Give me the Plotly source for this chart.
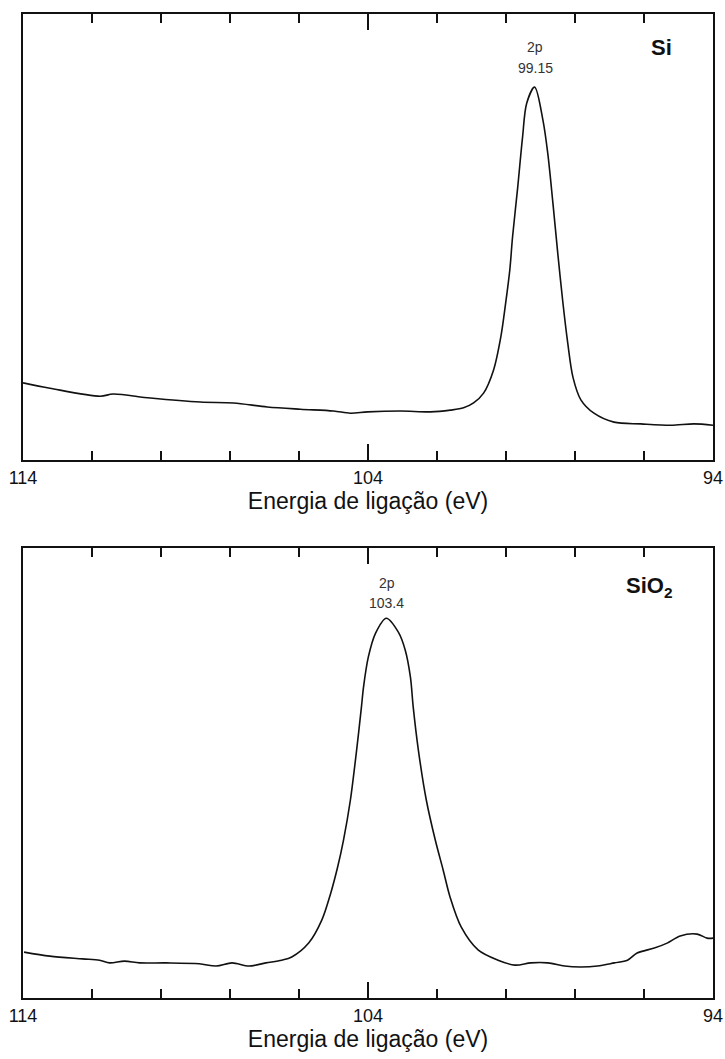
import plotly.graph_objects as go
from plotly.subplots import make_subplots

# Si 2p spectrum (binding energy eV, intensity arb. units)
si_energy = [114.00, 113.22, 111.76, 111.39, 110.31, 108.86, 107.90, 106.92, 105.96, 105.00,
             104.51, 104.01, 103.06, 102.19, 101.61, 101.23, 100.94, 100.65, 100.36, 100.15,
             100.01, 99.89, 99.81, 99.66, 99.52, 99.40, 99.17, 98.93, 98.79, 98.64,
             98.50, 98.35, 98.21, 98.06, 97.83, 97.45, 96.87, 96.09, 95.22, 94.55, 94.00]
si_intensity = [17.3, 16.1, 14.3, 14.8, 13.9, 13.0, 12.8, 11.9, 11.4, 11.0,
                10.5, 10.8, 11.0, 10.8, 11.2, 11.7, 12.8, 15.0, 20.2, 27.6,
                35.2, 42.6, 50.0, 61.2, 72.4, 80.0, 83.6, 76.2, 68.8, 57.6,
                46.4, 35.2, 26.2, 18.6, 13.5, 10.5, 8.5, 8.1, 7.8, 8.1, 7.8]

# SiO2 2p spectrum
sio2_energy = [113.97, 113.22, 112.27, 111.78, 111.49, 111.06, 110.62, 109.84, 108.89, 108.40,
               107.94, 107.45, 106.96, 106.50, 106.21, 105.72, 105.34, 105.08, 104.88, 104.71,
               104.51, 104.33, 104.19, 104.13, 103.99, 103.78, 103.47, 103.12, 102.92, 102.77,
               102.69, 102.54, 102.31, 102.05, 101.82, 101.62, 101.30, 100.81, 100.23, 99.74,
               99.28, 98.79, 98.30, 97.84, 97.35, 96.86, 96.48, 96.20, 95.70, 95.33,
               94.95, 94.46, 94.17, 94.00]
sio2_intensity = [10.2, 9.3, 8.7, 8.4, 7.8, 8.2, 7.8, 7.8, 7.6, 7.1,
                  7.8, 7.1, 7.8, 8.4, 9.1, 12.2, 17.3, 23.3, 29.1, 35.1,
                  44.0, 55.1, 64.7, 69.1, 75.8, 81.1, 84.4, 81.3, 77.3, 71.3,
                  64.7, 55.1, 44.0, 35.1, 28.4, 22.4, 15.8, 10.7, 8.4, 7.3,
                  7.8, 7.8, 7.1, 6.9, 7.1, 7.8, 8.4, 10.0, 11.1, 12.2,
                  13.8, 14.2, 13.3, 13.3]

x_tick_vals = [114, 104, 94]
x_tick_text = ["114", "104", "94"]
x_title = "Energia de ligação (eV)"
peak_labels = [("2p", "99.15"), ("2p", "103.4")]
sample_labels = ["Si", "SiO<sub>2</sub>"]

fig = make_subplots(rows=2, cols=1, vertical_spacing=0.0)

line_style = dict(color="#111", width=1.6, shape="spline", smoothing=0.9)
fig.add_trace(go.Scatter(x=si_energy, y=si_intensity, mode="lines", line=line_style,
                         showlegend=False, hoverinfo="skip"), row=1, col=1)
fig.add_trace(go.Scatter(x=sio2_energy, y=sio2_intensity, mode="lines", line=line_style,
                         showlegend=False, hoverinfo="skip"), row=2, col=1)

font_family = "Liberation Sans, Arial, sans-serif"
xcommon = dict(range=[114, 94], showline=True, linecolor="#111", linewidth=2, mirror="allticks",
               ticks="inside", ticklen=16, tickwidth=1.5, tickcolor="#111",
               tickvals=x_tick_vals, ticktext=x_tick_text, automargin=False,
               tickfont=dict(size=18, color="#111", family=font_family),
               minor=dict(dtick=2, tick0=94, ticks="inside", ticklen=9, tickwidth=1.5,
                          tickcolor="#111", showgrid=False),
               showgrid=False, zeroline=False,
               title=dict(text=x_title, font=dict(size=23, color="#111", family=font_family), standoff=4))
ycommon = dict(range=[0, 100], showline=True, linecolor="#111", linewidth=2, mirror=True,
               showticklabels=False, ticks="", showgrid=False, zeroline=False, automargin=False)

fig.update_xaxes(**xcommon)
fig.update_yaxes(**ycommon)
fig.update_yaxes(domain=[0.5467, 1.0], row=1, col=1)
fig.update_yaxes(domain=[0.0, 0.4573], row=2, col=1)

ann_font = dict(size=14, color="#333", family=font_family)
fig.add_annotation(x=99.15, y=92.6, text=peak_labels[0][0], showarrow=False, font=ann_font, xref="x", yref="y")
fig.add_annotation(x=99.15, y=87.9, text=peak_labels[0][1], showarrow=False, font=ann_font, xref="x", yref="y")
fig.add_annotation(x=103.45, y=92.2, text=peak_labels[1][0], showarrow=False, font=ann_font, xref="x2", yref="y2")
fig.add_annotation(x=103.45, y=87.8, text=peak_labels[1][1], showarrow=False, font=ann_font, xref="x2", yref="y2")
fig.add_annotation(x=95.48, y=92.4, text="<b>" + sample_labels[0] + "</b>", showarrow=False,
                   font=dict(size=22, color="#111", family=font_family), xref="x", yref="y")
fig.add_annotation(x=95.85, y=91.3, text="<b>" + sample_labels[1] + "</b>", showarrow=False,
                   font=dict(size=22, color="#111", family=font_family), xref="x2", yref="y2")

fig.update_layout(width=725, height=1059,
                  margin=dict(l=23, r=12, t=14, b=61, autoexpand=False),
                  paper_bgcolor="white", plot_bgcolor="white")

fig.write_html("out.html")
